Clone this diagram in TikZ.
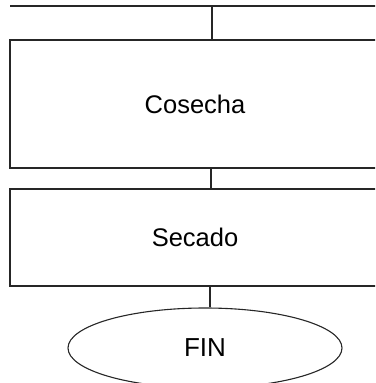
\documentclass[tikz,border=0pt]{standalone}
\usepackage{fontspec}
\setmainfont{Liberation Sans}
\usetikzlibrary{shapes.geometric}
\begin{document}
\begin{tikzpicture}[x=1pt,y=-1pt,
  line/.style={draw=black!85,line width=1.1pt},
  procbox/.style={line,rectangle,minimum width=370pt,inner sep=0pt,font=\fontsize{25.5}{30}\selectfont},
  endnode/.style={line,ellipse,minimum width=274pt,minimum height=80pt,inner sep=0pt,font=\fontsize{26}{30}\selectfont}]
\useasboundingbox (0,0) rectangle (375,383);
\clip (0,0) rectangle (375,383);
\coordinate (tl) at (10,6);
\coordinate (tr) at (385,6);
\draw[line] (tl) -- (tr);
\node[procbox,minimum height=128pt] (cos) at (195,104) {Cosecha};
\node[procbox,minimum height=97pt] (sec) at (195,237.5) {Secado};
\node[endnode] (fin) at (205,348) {FIN};
\coordinate (c1) at (212,6);
\coordinate (c2) at (211,0);
\coordinate (c3) at (210,0);
\draw[line] (c1) -- (c1 |- cos.north);
\draw[line] (cos.south -| c2) -- (sec.north -| c2);
\draw[line] (sec.south -| c3) -- (fin.north -| c3);
\end{tikzpicture}
\end{document}
